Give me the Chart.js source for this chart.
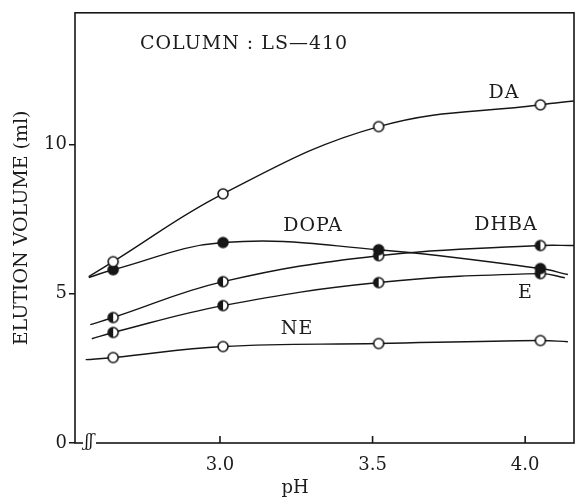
<!DOCTYPE html>
<html><head><meta charset="utf-8">
<script src="https://cdn.jsdelivr.net/npm/chart.js@4"></script>
<style>html,body{margin:0;padding:0;background:#fff}#wrap{width:588px;height:499px}</style>
</head><body><div id="wrap"><canvas id="c" width="588" height="499"></canvas></div>
<script>
// ---- data ----
const pH = [2.65, 3.01, 3.52, 4.05];
const xTickValues = [3.0, 3.5, 4.0];
const yTickValues = [0, 5, 10];
const seriesNames = ['DA', 'DOPA', 'DHBA', 'E', 'NE'];
const daValues   = [6.07, 8.34, 10.59, 11.32];
const dopaValues = [5.80, 6.71, 6.47, 5.84];
const dhbaValues = [4.20, 5.40, 6.27, 6.61];
const eValues    = [3.70, 4.60, 5.37, 5.67];
const neValues   = [2.86, 3.23, 3.33, 3.43];
// where each drawn curve begins and ends (beyond the measured points)
const curveStartPH     = [2.57, 2.57, 2.575, 2.58, 2.56];
const curveStartValues = [5.57, 5.54, 3.96, 3.49, 2.79];
const curveEndPH       = [4.16, 4.14, 4.16, 4.13, 4.14];
const curveEndValues   = [11.45, 5.64, 6.61, 5.53, 3.39];
const markerKinds = ['open', 'filled', 'half', 'half', 'open'];
const seriesValues = [daValues, dopaValues, dhbaValues, eValues, neValues];

const INK = '#161616';
const SERIF = '"DejaVu Serif", "Liberation Serif", serif';

function makeMarker(kind) {
  const s = 14, c = document.createElement('canvas');
  c.width = s; c.height = s;
  const g = c.getContext('2d');
  const r = 5, cx = s / 2, cy = s / 2;
  g.beginPath(); g.arc(cx, cy, r, 0, Math.PI * 2);
  g.fillStyle = kind === 'filled' ? INK : '#fff'; g.fill();
  if (kind === 'half') {
    g.beginPath(); g.arc(cx, cy, r, Math.PI / 2, Math.PI * 1.5); g.closePath();
    g.fillStyle = INK; g.fill();
  }
  g.beginPath(); g.arc(cx, cy, r, 0, Math.PI * 2);
  g.lineWidth = 1.6; g.strokeStyle = INK; g.stroke();
  return c;
}

const datasets = [];
seriesNames.forEach((name, i) => {
  const vals = seriesValues[i];
  datasets.push({
    label: name + ' points',
    data: pH.map((p, k) => ({x: p, y: vals[k]})),
    showLine: false,
    pointStyle: makeMarker(markerKinds[i]),
    pointRadius: 6,
    order: 0
  });
  datasets.push({
    label: name,
    data: [{x: curveStartPH[i], y: curveStartValues[i]}]
      .concat(pH.map((p, k) => ({x: p, y: vals[k]})))
      .concat([{x: curveEndPH[i], y: curveEndValues[i]}]),
    borderColor: INK,
    borderWidth: 1.4,
    pointRadius: 0,
    tension: 0.4,
    fill: false,
    order: 1
  });
});

const textLabels = [
  {t: 'COLUMN : LS\u2014410', x: 140, y: 44, align: 'left', sp: 1},
  {t: 'DA', x: 504, y: 93, align: 'center', sp: 1},
  {t: 'DOPA', x: 313, y: 226, align: 'center', sp: 1},
  {t: 'DHBA', x: 506, y: 225, align: 'center', sp: 1},
  {t: 'E', x: 525, y: 293, align: 'center', sp: 0},
  {t: 'NE', x: 297, y: 329, align: 'center', sp: 1}
];

const decor = {
  id: 'decor',
  afterDraw(chart) {
    const {ctx, chartArea: a, scales: {x}} = chart;
    ctx.save();
    ctx.strokeStyle = INK; ctx.lineWidth = 1.6;
    ctx.strokeRect(a.left, a.top, a.right - a.left, a.bottom - a.top);
    xTickValues.forEach(v => {
      const px = x.getPixelForValue(v);
      ctx.beginPath(); ctx.moveTo(px, a.bottom); ctx.lineTo(px, a.bottom - 7); ctx.stroke();
    });
    // axis break mark
    ctx.fillStyle = '#fff'; ctx.fillRect(83, a.bottom - 2, 13, 4);
    ctx.fillStyle = INK; ctx.font = 'italic 16px ' + SERIF;
    ctx.textAlign = 'center'; ctx.textBaseline = 'middle';
    ctx.fillText('\u0283\u0283', 89, a.bottom - 1);
    // text annotations
    ctx.font = '19px ' + SERIF; ctx.fillStyle = '#1c1c1c';
    textLabels.forEach(l => {
      ctx.letterSpacing = l.sp + 'px';
      ctx.textAlign = l.align;
      ctx.fillText(l.t, l.x, l.y);
    });
    ctx.letterSpacing = '0px';
    ctx.font = '18px ' + SERIF; ctx.textAlign = 'center';
    ctx.fillText('pH', 295, 488);
    ctx.restore();
  }
};

new Chart(document.getElementById('c'), {
  type: 'line',
  data: {datasets},
  options: {
    responsive: false,
    animation: false,
    devicePixelRatio: 1,
    layout: {padding: {top: 12, right: 14, left: 0, bottom: 0}},
    plugins: {legend: {display: false}, tooltip: {enabled: false}},
    scales: {
      x: {
        type: 'linear', min: 2.525, max: 4.16,
        afterBuildTicks: s => { s.ticks = xTickValues.map(v => ({value: v})); },
        afterFit: s => { s.height = 56; },
        border: {display: false},
        grid: {display: false, drawTicks: false},
        ticks: {padding: 12, color: '#1c1c1c', font: {family: SERIF, size: 18},
                callback: v => Number(v).toFixed(1), maxRotation: 0, autoSkip: false}
      },
      y: {
        min: 0, max: 14.4,
        afterBuildTicks: s => { s.ticks = yTickValues.map(v => ({value: v})); },
        afterFit: s => { s.width = 75; },
        border: {display: false},
        grid: {drawOnChartArea: false, drawTicks: true, tickLength: 6, color: INK, lineWidth: 1.5},
        ticks: {padding: 2, color: '#1c1c1c', font: {family: SERIF, size: 18}},
        title: {display: true, text: 'ELUTION VOLUME (ml)', color: '#1c1c1c',
                font: {family: SERIF, size: 19}, padding: {top: 11, bottom: 0}}
      }
    }
  },
  plugins: [decor]
});
</script></body></html>
